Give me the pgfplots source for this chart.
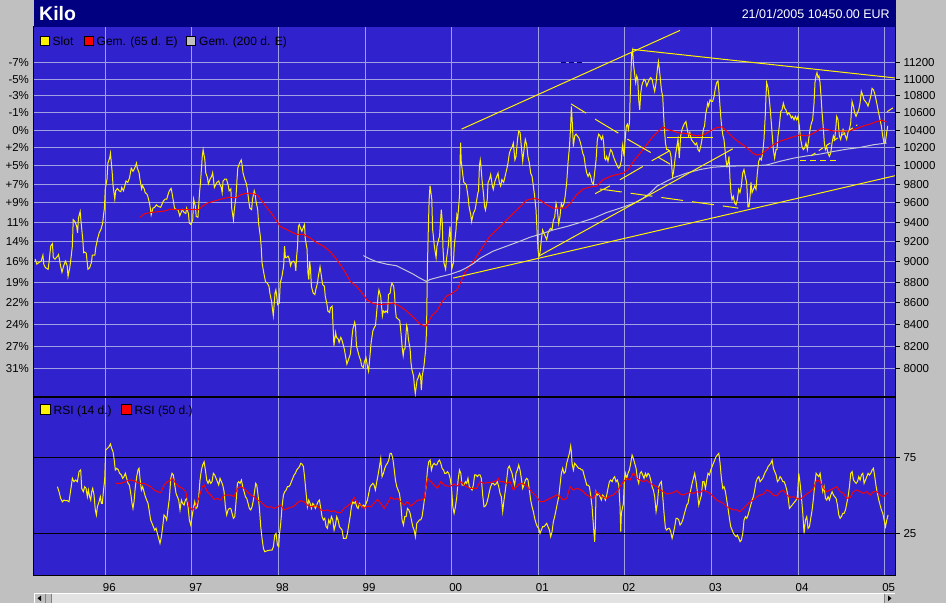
\documentclass[border=0pt]{standalone}
\usepackage{pgfplots}
\pgfplotsset{compat=1.18}
\usepackage{fontspec}
\setmainfont{Liberation Sans}
\definecolor{bggray}{RGB}{192,192,192}
\definecolor{navy}{RGB}{0,0,128}
\definecolor{plotblue}{RGB}{48,34,204}
\definecolor{gridcol}{RGB}{160,160,226}
\definecolor{avggray}{RGB}{200,200,214}
\definecolor{trackgray}{RGB}{226,226,226}
\newcommand{\tickfont}{\fontsize{11.5}{12}\selectfont}
\newcommand{\legfont}{\fontsize{12}{13}\selectfont}
\begin{document}
\begin{tikzpicture}[x=1pt,y=1pt]
\fill[bggray] (0,0) rectangle (946,-603);
% ---------------- main price panel ----------------
\begin{axis}[
  at={(34pt,-27pt)}, anchor=north west,
  scale only axis, width=861pt, height=370pt,
  xmin=1995.177, xmax=2005.119,
  ymode=log, ymin=7757, ymax=11652,
  axis background/.style={fill=plotblue},
  axis line style={black, line width=1pt},
  xtick={1996,1997,1998,1999,2000,2001,2002,2003,2004,2005},
  xticklabels={},
  xtick style={draw=none},
  xmajorgrids, ymajorgrids,
  major grid style={gridcol, line width=1pt},
  ytick={8000,8200,8400,8600,8800,9000,9200,9400,9600,9800,10000,10200,10400,10600,10800,11000,11200},
  yticklabels={8000,8200,8400,8600,8800,9000,9200,9400,9600,9800,10000,10200,10400,10600,10800,11000,11200},
  ytick pos=right, yticklabel pos=right,
  tick align=outside, major tick length=5pt,
  ytick style={black, line width=1pt},
  yticklabel style={font=\tickfont, text=black},
]
% Slot (price)
\addplot[yellow, line width=1pt] table {
x y
1995.19 9025
1995.21 8975
1995.23 8990
1995.26 9005
1995.28 9065
1995.29 8975
1995.31 8940
1995.34 8925
1995.35 8990
1995.37 9155
1995.39 9180
1995.40 9040
1995.42 9025
1995.45 9055
1995.46 9070
1995.47 9025
1995.48 8975
1995.50 8895
1995.52 8960
1995.54 9005
1995.56 8960
1995.57 8855
1995.59 8940
1995.60 9005
1995.62 9155
1995.63 9425
1995.65 9405
1995.67 9355
1995.68 9290
1995.69 9440
1995.70 9475
1995.71 9510
1995.72 9405
1995.74 9225
1995.75 9090
1995.76 9095
1995.78 9085
1995.80 8925
1995.82 8940
1995.84 8990
1995.85 9065
1995.88 9065
1995.89 9140
1995.91 9225
1995.93 9290
1995.95 9325
1995.97 9390
1995.98 9475
1995.99 9545
1996.00 9750
1996.02 9855
1996.03 10030
1996.05 10085
1996.06 10140
1996.07 10030
1996.08 9925
1996.09 9785
1996.11 9640
1996.12 9730
1996.14 9755
1996.16 9730
1996.18 9720
1996.19 9765
1996.21 9730
1996.24 9835
1996.26 9820
1996.28 9870
1996.30 9975
1996.32 9940
1996.34 9975
1996.36 10030
1996.37 9975
1996.39 9925
1996.40 9855
1996.42 9750
1996.43 9785
1996.45 9750
1996.46 9710
1996.48 9695
1996.49 9675
1996.51 9600
1996.52 9545
1996.53 9475
1996.55 9545
1996.57 9555
1996.59 9580
1996.61 9565
1996.64 9555
1996.67 9620
1996.69 9640
1996.71 9640
1996.72 9675
1996.74 9730
1996.76 9755
1996.77 9710
1996.79 9600
1996.80 9545
1996.82 9530
1996.84 9530
1996.86 9465
1996.87 9490
1996.89 9530
1996.91 9500
1996.93 9490
1996.94 9545
1996.96 9490
1996.97 9390
1996.99 9375
1997.01 9425
1997.02 9640
1997.04 9565
1997.05 9460
1997.07 9450
1997.09 9730
1997.10 9820
1997.12 10105
1997.13 10180
1997.15 10065
1997.16 9925
1997.18 9870
1997.19 9805
1997.21 9855
1997.23 9890
1997.24 9925
1997.26 9765
1997.28 9805
1997.29 9820
1997.31 9835
1997.32 9805
1997.34 9765
1997.35 9710
1997.36 9835
1997.38 9855
1997.40 9855
1997.42 9785
1997.43 9730
1997.45 9750
1997.46 9545
1997.48 9425
1997.49 9530
1997.51 9675
1997.52 9835
1997.53 9975
1997.55 10030
1997.57 10065
1997.58 10010
1997.59 9925
1997.61 9855
1997.63 9805
1997.64 9750
1997.66 9600
1997.67 9545
1997.69 9530
1997.70 9640
1997.72 9730
1997.73 9695
1997.74 9620
1997.76 9530
1997.77 9390
1997.79 9255
1997.80 9155
1997.81 8990
1997.83 8890
1997.85 8805
1997.87 8790
1997.89 8760
1997.90 8695
1997.92 8615
1997.93 8545
1997.94 8480
1997.95 8585
1997.96 8695
1997.97 8725
1997.98 8665
1997.99 8585
1998.01 8600
1998.02 8790
1998.04 8855
1998.06 8960
1998.07 9155
1998.08 9040
1998.09 9040
1998.11 9055
1998.12 9040
1998.14 8960
1998.15 8990
1998.17 9005
1998.19 8990
1998.20 8910
1998.21 9055
1998.22 9155
1998.23 9355
1998.24 9375
1998.26 9325
1998.27 9305
1998.29 9355
1998.30 9375
1998.31 9225
1998.33 9125
1998.34 8890
1998.35 8825
1998.36 9005
1998.37 8925
1998.38 8760
1998.40 8695
1998.42 8680
1998.43 8725
1998.45 8790
1998.46 8855
1998.48 8950
1998.49 8890
1998.51 8775
1998.53 8760
1998.54 8665
1998.56 8585
1998.57 8525
1998.59 8510
1998.60 8555
1998.62 8570
1998.63 8390
1998.64 8205
1998.66 8325
1998.67 8280
1998.69 8265
1998.70 8235
1998.72 8280
1998.73 8265
1998.75 8205
1998.76 8175
1998.78 8085
1998.79 8040
1998.81 8085
1998.83 8130
1998.84 8205
1998.85 8295
1998.86 8360
1998.88 8420
1998.89 8375
1998.90 8205
1998.92 8145
1998.93 8115
1998.95 8070
1998.96 8025
1998.98 8010
1998.99 8055
1999.01 8100
1999.03 8010
1999.04 7980
1999.06 8145
1999.07 8235
1999.09 8340
1999.10 8360
1999.12 8390
1999.13 8480
1999.15 8665
1999.16 8725
1999.18 8665
1999.20 8480
1999.21 8525
1999.23 8510
1999.24 8525
1999.26 8510
1999.27 8680
1999.29 8695
1999.30 8760
1999.31 8790
1999.33 8760
1999.34 8680
1999.35 8540
1999.36 8465
1999.38 8450
1999.40 8435
1999.41 8360
1999.43 8175
1999.44 8115
1999.45 8175
1999.46 8175
1999.48 8390
1999.49 8360
1999.50 8265
1999.52 8175
1999.53 8055
1999.54 7995
1999.56 7935
1999.57 7845
1999.58 7785
1999.60 7900
1999.61 7915
1999.63 7960
1999.64 7935
1999.65 7815
1999.66 7935
1999.68 8025
1999.70 8175
1999.71 8360
1999.72 8960
1999.73 9325
1999.74 9640
1999.75 9785
1999.77 9640
1999.78 9325
1999.79 9240
1999.80 9155
1999.82 9040
1999.83 9155
1999.85 9225
1999.86 9255
1999.88 9530
1999.89 9425
1999.90 9125
1999.91 8990
1999.93 8925
1999.94 9025
1999.96 9155
1999.97 9255
1999.98 9355
1999.99 9190
2000.00 8925
2000.02 8990
2000.03 9155
2000.05 9325
2000.06 9475
2000.07 9440
2000.09 9675
2000.097 10065
2000.103 10260
2000.11 10050
2000.13 9890
2000.14 9820
2000.16 9805
2000.17 9785
2000.19 9660
2000.20 9565
2000.22 9475
2000.23 9405
2000.25 9490
2000.27 9530
2000.28 9580
2000.30 9695
2000.31 9730
2000.32 9995
2000.33 10065
2000.335 10030
2000.35 9850
2000.37 9670
2000.38 9560
2000.39 9525
2000.41 9630
2000.42 9820
2000.435 9850
2000.45 9905
2000.47 9780
2000.48 9745
2000.50 9835
2000.52 9885
2000.535 9920
2000.55 9820
2000.566 9780
2000.58 9850
2000.60 9820
2000.616 9885
2000.635 9960
2000.65 10030
2000.666 10140
2000.68 10180
2000.70 10215
2000.712 10255
2000.73 10065
2000.743 10105
2000.76 10295
2000.774 10390
2000.79 10375
2000.804 10215
2000.82 10050
2000.835 10180
2000.85 10295
2000.866 10235
2000.88 10105
2000.897 10030
2000.912 9920
2000.928 9885
2000.943 9780
2000.958 9670
2000.974 9525
2000.985 9320
2000.997 9120
2001.008 9055
2001.02 9085
2001.035 9220
2001.05 9320
2001.066 9285
2001.08 9255
2001.097 9220
2001.112 9285
2001.128 9320
2001.143 9335
2001.158 9320
2001.174 9420
2001.19 9455
2001.205 9595
2001.22 9525
2001.236 9385
2001.25 9455
2001.266 9595
2001.28 9560
2001.297 9595
2001.31 9670
2001.328 9820
2001.343 10030
2001.36 10215
2001.374 10450
2001.382 10675
2001.393 10480
2001.405 10215
2001.42 10335
2001.436 10355
2001.45 10335
2001.467 10315
2001.482 10275
2001.497 10215
2001.513 10140
2001.528 10105
2001.544 9995
2001.56 9920
2001.575 9885
2001.59 9920
2001.605 9885
2001.62 9820
2001.636 9800
2001.65 9920
2001.667 10065
2001.682 10295
2001.698 10355
2001.713 10335
2001.728 10295
2001.744 10335
2001.755 10255
2001.767 10085
2001.778 10065
2001.79 10105
2001.805 10050
2001.82 10120
2001.836 10180
2001.85 10160
2001.867 10105
2001.882 10065
2001.898 10030
2001.913 9995
2001.929 9975
2001.944 9995
2001.96 10065
2001.967 10180
2001.975 10235
2001.99 10105
2002.006 10335
2002.017 10450
2002.029 10470
2002.04 10410
2002.052 10480
2002.067 11000
2002.079 11320
2002.09 11360
2002.098 11195
2002.113 11060
2002.125 10960
2002.137 11040
2002.148 11000
2002.16 10750
2002.171 10635
2002.183 10830
2002.194 10920
2002.206 10960
2002.221 11000
2002.237 10980
2002.252 10920
2002.267 10960
2002.283 11000
2002.298 11020
2002.314 11000
2002.329 10920
2002.344 10855
2002.36 10960
2002.375 11120
2002.387 11215
2002.398 11120
2002.41 11000
2002.421 10875
2002.437 10790
2002.452 10480
2002.468 10255
2002.483 10180
2002.498 10180
2002.52 10160
2002.532 10105
2002.544 9960
2002.55 9885
2002.56 9920
2002.57 9995
2002.582 10105
2002.60 10215
2002.613 10295
2002.628 10085
2002.644 10335
2002.66 10410
2002.675 10450
2002.69 10480
2002.705 10500
2002.72 10410
2002.736 10335
2002.75 10375
2002.767 10295
2002.782 10275
2002.798 10255
2002.813 10235
2002.829 10255
2002.844 10180
2002.86 10160
2002.875 10215
2002.89 10295
2002.906 10410
2002.92 10450
2002.932 10580
2002.944 10640
2002.956 10715
2002.967 10680
2002.983 10755
2002.998 10735
2003.013 10735
2003.029 10790
2003.044 10890
2003.06 10960
2003.075 10980
2003.086 10855
2003.098 10680
2003.11 10520
2003.121 10410
2003.133 10335
2003.144 10295
2003.156 10180
2003.167 10065
2003.179 9995
2003.19 10030
2003.202 10105
2003.214 9850
2003.225 9710
2003.237 9635
2003.252 9670
2003.267 9600
2003.283 9580
2003.298 9635
2003.314 9745
2003.329 9710
2003.344 9780
2003.36 9920
2003.375 9960
2003.39 9885
2003.406 9820
2003.421 9560
2003.433 9560
2003.445 9670
2003.456 9820
2003.468 9710
2003.483 9745
2003.498 9780
2003.514 9745
2003.529 9920
2003.545 10050
2003.56 10085
2003.575 10065
2003.591 10140
2003.606 10295
2003.622 10595
2003.629 10790
2003.637 10960
2003.652 10900
2003.668 10755
2003.679 10635
2003.691 10480
2003.702 10335
2003.714 10180
2003.729 10085
2003.745 10180
2003.756 10180
2003.768 10335
2003.783 10450
2003.799 10615
2003.814 10635
2003.83 10715
2003.845 10655
2003.86 10635
2003.876 10580
2003.891 10600
2003.907 10580
2003.922 10540
2003.937 10560
2003.953 10520
2003.968 10560
2003.984 10520
2003.999 10560
2004.014 10450
2004.03 10295
2004.045 10215
2004.06 10180
2004.076 10200
2004.091 10255
2004.107 10180
2004.122 10295
2004.138 10410
2004.153 10480
2004.168 10520
2004.184 10715
2004.195 10960
2004.207 11040
2004.218 11080
2004.23 11020
2004.241 11040
2004.253 10960
2004.265 10790
2004.276 10615
2004.292 10410
2004.303 10255
2004.315 10180
2004.33 10215
2004.345 10140
2004.361 10105
2004.376 10140
2004.392 10255
2004.407 10335
2004.422 10295
2004.434 10410
2004.446 10560
2004.461 10520
2004.476 10335
2004.492 10295
2004.507 10375
2004.519 10410
2004.53 10375
2004.546 10335
2004.561 10295
2004.576 10375
2004.592 10410
2004.607 10480
2004.623 10735
2004.638 10680
2004.653 10600
2004.669 10560
2004.684 10600
2004.70 10635
2004.715 10715
2004.73 10855
2004.746 10810
2004.761 10755
2004.777 10735
2004.792 10715
2004.807 10680
2004.823 10735
2004.838 10790
2004.854 10890
2004.869 10875
2004.884 10830
2004.90 10755
2004.915 10680
2004.93 10600
2004.946 10520
2004.961 10450
2004.977 10335
2004.992 10255
2005.007 10255
2005.023 10375
2005.035 10450
};
% Gem. (65 d. E)
\addplot[red, line width=1pt] table {
x y
1996.40 9450
1996.45 9485
1996.52 9500
1996.68 9515
1996.75 9535
1996.83 9530
1996.95 9530
1997.08 9530
1997.12 9565
1997.18 9600
1997.26 9620
1997.33 9640
1997.43 9660
1997.51 9655
1997.56 9685
1997.61 9700
1997.66 9705
1997.72 9695
1997.76 9680
1997.81 9620
1997.87 9545
1997.92 9490
1997.95 9450
1998.02 9355
1998.09 9325
1998.17 9290
1998.21 9275
1998.29 9275
1998.36 9240
1998.44 9190
1998.52 9155
1998.59 9105
1998.67 9025
1998.75 8925
1998.83 8805
1998.90 8760
1998.98 8680
1999.02 8630
1999.09 8595
1999.17 8585
1999.25 8590
1999.33 8600
1999.40 8570
1999.48 8525
1999.56 8465
1999.63 8405
1999.70 8380
1999.73 8420
1999.77 8480
1999.83 8525
1999.88 8600
1999.94 8665
2000.00 8690
2000.06 8725
2000.10 8790
2000.15 8890
2000.21 8960
2000.27 9025
2000.33 9110
2000.44 9255
2000.56 9355
2000.67 9455
2000.79 9560
2000.866 9630
2000.96 9650
2001.02 9630
2001.10 9580
2001.17 9545
2001.25 9545
2001.31 9545
2001.37 9595
2001.44 9685
2001.52 9750
2001.60 9770
2001.675 9780
2001.75 9850
2001.83 9885
2001.905 9905
2001.98 9920
2002.04 9960
2002.10 10050
2002.175 10140
2002.25 10235
2002.33 10335
2002.387 10390
2002.445 10440
2002.48 10410
2002.56 10390
2002.62 10370
2002.675 10365
2002.75 10355
2002.83 10335
2002.905 10345
2002.98 10390
2003.06 10430
2003.12 10440
2003.175 10390
2003.25 10315
2003.33 10255
2003.41 10200
2003.48 10140
2003.52 10120
2003.58 10130
2003.64 10180
2003.714 10235
2003.79 10275
2003.87 10300
2003.945 10325
2004.02 10345
2004.10 10335
2004.157 10355
2004.215 10390
2004.27 10420
2004.33 10410
2004.41 10390
2004.48 10390
2004.56 10390
2004.62 10400
2004.68 10420
2004.755 10450
2004.83 10470
2004.91 10500
2004.965 10515
2005.02 10495
};
% Gem. (200 d. E)
\addplot[avggray, line width=1pt] table {
x y
1998.98 9060
1999.06 9025
1999.13 9000
1999.25 8975
1999.36 8960
1999.48 8910
1999.56 8875
1999.63 8840
1999.71 8805
1999.75 8825
1999.86 8850
1999.98 8875
2000.10 8910
2000.17 8940
2000.25 8980
2000.33 9035
2000.48 9105
2000.635 9155
2000.79 9205
2000.905 9245
2001.02 9275
2001.174 9320
2001.33 9355
2001.48 9395
2001.636 9440
2001.79 9500
2001.944 9545
2002.098 9595
2002.21 9650
2002.29 9705
2002.37 9780
2002.445 9815
2002.56 9870
2002.71 9920
2002.87 9960
2003.02 9985
2003.175 9995
2003.33 10000
2003.48 10000
2003.64 10010
2003.79 10050
2003.945 10085
2004.10 10110
2004.25 10130
2004.41 10160
2004.56 10185
2004.715 10205
2004.87 10235
2005.023 10255
};
% drawn trend lines
\addplot[yellow, line width=1pt] coordinates {(2000.115,10413) (2002.636,11607)};
\addplot[yellow, line width=1pt] coordinates {(2002.082,11368) (2005.119,11016)};
\addplot[yellow, line width=1pt] coordinates {(2000.018,8839) (2005.119,9892)};
\addplot[yellow, line width=1pt] coordinates {(2001.0,9052) (2003.245,10189)};
\addplot[yellow, line width=1pt, dash pattern=on 22pt off 9pt] coordinates {(2001.712,9749) (2003.309,9546)};
\addplot[yellow, line width=1pt] coordinates {(2001.378,10706) (2001.551,10598)};
\addplot[yellow, line width=1pt] coordinates {(2001.655,10528) (2001.924,10367)};
\addplot[yellow, line width=1pt] coordinates {(2002.028,10299) (2002.298,10148)};
\addplot[yellow, line width=1pt] coordinates {(2001.943,9848) (2002.206,9993)};
\addplot[yellow, line width=1pt] coordinates {(2001.655,9698) (2001.828,9783)};
\addplot[yellow, line width=1pt] coordinates {(2002.31,10056) (2002.521,10170)};
\addplot[yellow, line width=1pt] coordinates {(2002.382,10097) (2002.521,10019)};
\addplot[yellow, line width=1pt] coordinates {(2002.490,10322) (2003.014,10322)};
\addplot[yellow, line width=1pt, dash pattern=on 6pt off 4pt] coordinates {(2004.022,10060) (2004.446,10060)};
\addplot[yellow, line width=1pt, dash pattern=on 5pt off 4pt] coordinates {(2004.152,10112) (2004.684,10462)};
\addplot[yellow, line width=1pt] coordinates {(2005.026,10613) (2005.095,10659)};
\addplot[navy, line width=1pt, dash pattern=on 5pt off 3pt] coordinates {(2001.262,11200) (2001.501,11200)};
\end{axis}
% left percent scale
\begin{axis}[
  at={(34pt,-27pt)}, anchor=north west,
  scale only axis, width=861pt, height=370pt,
  xmin=1995.177, xmax=2005.119,
  ymode=log, ymin=7757, ymax=11652,
  axis x line=none, axis y line*=left,
  y axis line style={draw=none},
  ytick={8000,8200,8400,8600,8800,9000,9200,9400,9600,9800,10000,10200,10400,10600,10800,11000,11200},
  yticklabels={31\%,27\%,24\%,22\%,19\%,16\%,14\%,11\%,+9\%,+7\%,+5\%,+2\%,0\%,-1\%,-3\%,-5\%,-7\%},
  ytick style={draw=none},
  yticklabel style={font=\tickfont, text=black, xshift=-1.5pt},
]
\end{axis}
% ---------------- RSI panel ----------------
\begin{axis}[
  at={(34pt,-397pt)}, anchor=north west,
  scale only axis, width=861pt, height=178pt,
  xmin=1995.177, xmax=2005.119,
  ymin=-2.4, ymax=114.7,
  axis background/.style={fill=plotblue},
  axis line style={black, line width=1pt},
  xtick={1996,1997,1998,1999,2000,2001,2002,2003,2004,2005},
  xticklabels={96,97,98,99,00,01,02,03,04,05},
  xtick style={draw=none},
  xticklabel style={font=\tickfont, text=black, xshift=4pt},
  xmajorgrids,
  major grid style={gridcol, line width=1pt},
  ytick=\empty,
  extra y ticks={25,75},
  extra y tick labels={25,75},
  extra y tick style={grid=major, major grid style={black, line width=1pt}},
  ytick pos=right, yticklabel pos=right,
  tick align=outside, major tick length=5pt,
  ytick style={black, line width=1pt},
  yticklabel style={font=\tickfont, text=black},
]
% RSI (14 d.)
\addplot[yellow, line width=1pt] table {
x y
1995.447 55.7
1995.466 52.4
1995.485 48.0
1995.504 45.8
1995.524 46.9
1995.543 46.5
1995.562 46.5
1995.581 45.8
1995.601 53.5
1995.620 61.2
1995.639 59.0
1995.658 60.1
1995.678 59.0
1995.697 65.6
1995.716 66.7
1995.728 54.6
1995.747 52.4
1995.762 55.7
1995.778 54.6
1995.793 49.1
1995.805 53.5
1995.820 49.1
1995.832 46.9
1995.843 52.4
1995.855 54.6
1995.870 50.2
1995.885 40.4
1995.897 37.1
1995.909 42.5
1995.928 45.8
1995.943 49.1
1995.955 44.7
1995.966 44.7
1995.978 52.4
1995.993 60.1
1996.005 79.8
1996.024 80.9
1996.043 82.0
1996.059 83.8
1996.074 80.9
1996.089 78.7
1996.101 74.3
1996.116 66.7
1996.132 67.8
1996.151 66.7
1996.166 64.5
1996.186 63.4
1996.201 61.2
1996.216 62.3
1996.232 64.5
1996.247 61.2
1996.263 57.9
1996.278 56.8
1996.294 51.3
1996.309 44.7
1996.320 41.4
1996.332 45.8
1996.347 55.7
1996.363 62.3
1996.378 66.7
1996.390 67.8
1996.401 61.2
1996.417 53.5
1996.432 55.7
1996.447 52.4
1996.463 49.1
1996.478 46.9
1996.494 44.7
1996.509 39.3
1996.524 33.8
1996.540 31.6
1996.555 29.4
1996.571 27.2
1996.586 28.3
1996.601 25.0
1996.617 21.7
1996.632 18.4
1996.648 22.8
1996.663 29.4
1996.678 37.1
1996.694 36.0
1996.709 33.8
1996.725 41.4
1996.740 48.0
1996.756 61.2
1996.771 64.5
1996.786 63.4
1996.802 56.8
1996.817 51.3
1996.832 49.1
1996.848 46.9
1996.863 40.4
1996.879 46.9
1996.894 44.7
1996.910 43.6
1996.925 46.9
1996.940 48.0
1996.956 42.5
1996.971 33.8
1996.987 30.5
1997.002 36.0
1997.017 41.4
1997.033 45.8
1997.048 41.4
1997.064 42.5
1997.079 49.1
1997.094 60.1
1997.110 66.7
1997.125 70.0
1997.141 72.1
1997.156 66.7
1997.171 60.1
1997.187 57.9
1997.202 60.1
1997.218 57.9
1997.233 59.0
1997.248 64.5
1997.264 63.4
1997.279 61.2
1997.295 59.0
1997.310 56.8
1997.325 61.2
1997.341 59.0
1997.356 56.8
1997.372 52.4
1997.387 42.5
1997.402 37.1
1997.418 40.4
1997.433 41.4
1997.449 41.4
1997.464 38.2
1997.479 34.9
1997.495 36.0
1997.510 45.8
1997.526 57.9
1997.541 59.0
1997.556 57.9
1997.572 60.1
1997.587 55.7
1997.603 52.4
1997.618 49.1
1997.633 48.0
1997.649 44.7
1997.664 41.4
1997.680 40.4
1997.695 42.5
1997.710 46.9
1997.726 53.5
1997.737 57.9
1997.749 56.8
1997.764 50.2
1997.780 41.4
1997.795 29.4
1997.810 21.7
1997.826 15.1
1997.841 12.9
1997.872 13.6
1997.903 14.0
1997.926 14.0
1997.941 16.2
1997.957 23.9
1997.972 25.0
1997.988 17.3
1998.003 16.2
1998.011 23.9
1998.026 31.6
1998.041 42.5
1998.057 50.2
1998.072 52.4
1998.088 53.5
1998.103 55.7
1998.118 55.7
1998.134 56.8
1998.149 59.0
1998.165 61.2
1998.180 63.4
1998.195 64.5
1998.211 66.7
1998.226 67.8
1998.242 68.9
1998.257 71.1
1998.272 70.6
1998.288 68.9
1998.303 61.2
1998.319 51.3
1998.334 42.5
1998.349 46.9
1998.365 44.7
1998.380 41.4
1998.396 44.7
1998.411 43.6
1998.426 41.4
1998.442 43.6
1998.457 45.8
1998.473 46.9
1998.488 41.4
1998.503 36.0
1998.519 33.8
1998.534 34.9
1998.550 29.4
1998.565 28.3
1998.580 33.8
1998.596 31.6
1998.611 36.0
1998.627 33.8
1998.642 27.2
1998.657 30.5
1998.673 36.0
1998.688 33.8
1998.704 29.4
1998.719 28.3
1998.734 27.2
1998.750 21.7
1998.765 21.7
1998.781 21.7
1998.796 25.0
1998.811 30.5
1998.827 36.0
1998.842 42.5
1998.858 45.8
1998.873 44.7
1998.888 45.8
1998.904 42.5
1998.919 41.4
1998.935 44.7
1998.950 43.6
1998.965 42.5
1998.981 43.6
1998.996 42.5
1999.012 44.7
1999.027 46.9
1999.042 51.3
1999.058 55.7
1999.073 56.8
1999.089 57.9
1999.104 56.8
1999.119 53.5
1999.135 59.0
1999.150 63.4
1999.166 68.9
1999.181 74.3
1999.196 62.3
1999.212 64.5
1999.227 67.8
1999.243 70.0
1999.258 71.1
1999.273 73.2
1999.289 77.6
1999.304 77.6
1999.320 74.3
1999.335 67.8
1999.350 60.1
1999.366 55.7
1999.381 53.5
1999.397 51.3
1999.412 44.7
1999.427 33.8
1999.443 30.5
1999.458 36.0
1999.474 36.0
1999.489 41.4
1999.504 40.4
1999.520 38.2
1999.535 33.8
1999.551 29.4
1999.566 27.2
1999.581 22.8
1999.597 31.6
1999.612 32.7
1999.628 33.8
1999.643 33.8
1999.658 36.0
1999.674 42.5
1999.689 49.1
1999.705 55.7
1999.720 66.7
1999.735 72.1
1999.751 73.2
1999.766 66.7
1999.782 70.0
1999.797 71.1
1999.812 70.0
1999.828 70.0
1999.843 72.1
1999.859 73.2
1999.874 71.1
1999.889 67.8
1999.905 66.7
1999.920 64.5
1999.936 64.5
1999.951 65.6
1999.966 64.5
1999.982 61.2
1999.997 55.7
2000.013 42.5
2000.028 38.2
2000.043 42.5
2000.059 49.1
2000.074 60.1
2000.090 66.7
2000.105 64.5
2000.120 56.8
2000.142 56.8
2000.158 59.0
2000.173 57.9
2000.188 61.2
2000.204 55.7
2000.219 54.6
2000.235 53.5
2000.250 56.8
2000.265 63.4
2000.281 63.4
2000.296 62.3
2000.312 63.4
2000.327 63.4
2000.342 61.2
2000.358 50.2
2000.373 42.5
2000.389 43.0
2000.404 44.7
2000.419 48.0
2000.435 52.4
2000.450 55.7
2000.466 57.9
2000.481 57.9
2000.496 56.8
2000.512 57.5
2000.527 59.0
2000.543 55.7
2000.558 51.3
2000.573 49.1
2000.589 39.3
2000.604 46.9
2000.620 53.5
2000.635 60.1
2000.650 67.8
2000.666 69.3
2000.681 66.7
2000.697 64.5
2000.712 60.1
2000.727 56.8
2000.743 64.5
2000.758 66.7
2000.774 70.0
2000.789 66.7
2000.804 61.2
2000.820 54.6
2000.835 56.8
2000.851 60.1
2000.866 61.2
2000.881 60.1
2000.897 53.5
2000.912 46.9
2000.928 42.5
2000.943 39.3
2000.958 34.9
2000.974 31.6
2000.989 29.4
2001.005 28.3
2001.020 25.0
2001.035 27.2
2001.051 29.4
2001.066 29.4
2001.082 30.5
2001.097 31.6
2001.112 29.4
2001.128 27.2
2001.143 22.8
2001.159 26.1
2001.174 32.7
2001.189 36.0
2001.205 40.4
2001.220 44.7
2001.236 49.1
2001.251 56.8
2001.266 64.5
2001.282 67.8
2001.297 64.5
2001.313 65.6
2001.328 71.1
2001.343 74.3
2001.359 77.6
2001.374 82.5
2001.382 78.7
2001.390 71.1
2001.405 66.7
2001.420 71.1
2001.436 70.0
2001.451 68.9
2001.467 67.8
2001.482 67.8
2001.497 66.7
2001.513 66.7
2001.528 63.4
2001.544 60.1
2001.559 56.8
2001.574 56.8
2001.590 55.7
2001.605 50.2
2001.621 42.5
2001.636 30.5
2001.651 19.5
2001.659 29.4
2001.667 52.4
2001.682 50.2
2001.698 51.3
2001.713 49.1
2001.728 46.9
2001.744 50.2
2001.759 49.1
2001.775 46.9
2001.790 50.2
2001.805 54.6
2001.821 59.0
2001.836 60.1
2001.852 59.0
2001.867 61.2
2001.882 62.3
2001.898 59.0
2001.913 60.1
2001.929 56.8
2001.944 42.5
2001.952 26.1
2001.959 38.2
2001.971 41.4
2001.983 44.7
2001.994 60.1
2002.006 64.5
2002.021 61.2
2002.036 64.5
2002.052 66.7
2002.067 71.1
2002.083 76.5
2002.098 74.3
2002.113 71.1
2002.129 67.8
2002.144 61.2
2002.160 57.9
2002.175 64.5
2002.190 65.6
2002.206 63.4
2002.221 61.2
2002.237 64.5
2002.252 62.3
2002.267 64.5
2002.283 63.4
2002.298 60.1
2002.314 55.7
2002.329 53.5
2002.344 49.1
2002.360 39.3
2002.375 44.7
2002.391 55.7
2002.406 57.9
2002.421 59.0
2002.437 49.1
2002.452 38.2
2002.468 28.3
2002.483 27.2
2002.498 28.3
2002.514 28.3
2002.529 26.1
2002.545 21.7
2002.560 25.0
2002.575 29.4
2002.591 34.9
2002.606 34.9
2002.622 33.8
2002.637 30.5
2002.652 31.6
2002.668 33.8
2002.683 37.1
2002.699 40.4
2002.714 43.6
2002.729 44.7
2002.745 50.2
2002.760 53.5
2002.776 57.9
2002.791 61.2
2002.806 64.5
2002.822 59.0
2002.837 52.4
2002.853 43.6
2002.868 46.9
2002.883 50.2
2002.899 59.0
2002.914 59.0
2002.930 54.6
2002.945 60.1
2002.960 64.5
2002.976 63.4
2002.991 66.7
2003.007 68.9
2003.022 71.1
2003.037 73.2
2003.053 75.4
2003.068 76.5
2003.084 77.6
2003.099 71.1
2003.114 61.2
2003.130 54.6
2003.145 55.7
2003.161 52.4
2003.176 46.9
2003.191 41.4
2003.207 34.9
2003.222 29.4
2003.238 27.2
2003.253 25.0
2003.268 23.9
2003.284 22.8
2003.299 23.9
2003.315 21.7
2003.330 19.5
2003.345 20.6
2003.361 25.0
2003.376 33.8
2003.392 36.0
2003.407 34.9
2003.422 37.1
2003.438 40.4
2003.453 43.6
2003.469 46.9
2003.484 49.1
2003.499 53.5
2003.515 59.0
2003.530 61.2
2003.546 62.3
2003.561 59.0
2003.576 60.1
2003.592 61.2
2003.607 63.4
2003.623 65.6
2003.638 66.7
2003.653 68.9
2003.669 70.0
2003.684 71.1
2003.700 73.2
2003.715 67.8
2003.730 65.6
2003.746 63.4
2003.761 59.0
2003.777 60.1
2003.792 62.3
2003.807 61.2
2003.823 59.0
2003.838 59.0
2003.854 56.8
2003.869 53.5
2003.884 49.1
2003.900 41.4
2003.915 42.5
2003.931 43.6
2003.946 44.7
2003.961 45.8
2003.977 46.9
2003.992 49.1
2004.008 64.5
2004.023 57.9
2004.038 49.1
2004.054 38.2
2004.069 25.0
2004.085 33.8
2004.100 36.0
2004.115 28.3
2004.131 29.4
2004.146 34.9
2004.162 40.4
2004.177 48.0
2004.192 56.8
2004.208 64.5
2004.223 63.4
2004.239 62.3
2004.254 64.5
2004.269 57.9
2004.285 52.4
2004.300 55.7
2004.316 48.0
2004.331 46.9
2004.346 49.1
2004.362 46.9
2004.377 50.2
2004.393 52.4
2004.408 50.2
2004.423 49.1
2004.439 48.0
2004.454 43.6
2004.470 37.1
2004.485 34.9
2004.500 36.0
2004.516 38.2
2004.531 38.2
2004.547 40.4
2004.562 44.7
2004.577 49.1
2004.593 55.7
2004.608 64.5
2004.624 65.6
2004.639 60.1
2004.654 59.0
2004.670 57.9
2004.685 59.0
2004.701 62.3
2004.716 60.1
2004.731 63.4
2004.747 64.5
2004.762 57.9
2004.778 60.1
2004.793 62.3
2004.808 64.5
2004.824 63.4
2004.839 64.5
2004.855 66.7
2004.870 67.8
2004.885 62.3
2004.901 55.7
2004.916 51.3
2004.932 46.9
2004.947 43.6
2004.962 40.4
2004.978 38.2
2004.993 33.8
2005.009 29.4
2005.024 33.8
2005.039 37.1
};
% RSI (50 d.)
\addplot[red, line width=1pt] table {
x y
1996.120 57.9
1996.178 57.9
1996.217 58.6
1996.255 59.6
1996.294 60.1
1996.332 59.6
1996.371 58.3
1996.409 57.9
1996.448 57.9
1996.486 56.8
1996.525 55.7
1996.563 53.5
1996.602 52.4
1996.640 51.8
1996.679 56.8
1996.717 59.0
1996.756 60.1
1996.775 61.2
1996.813 57.9
1996.852 55.7
1996.890 54.6
1996.929 52.4
1996.967 42.5
1997.006 40.4
1997.044 43.0
1997.083 48.7
1997.121 55.7
1997.141 56.8
1997.179 52.4
1997.218 50.2
1997.256 47.4
1997.295 48.0
1997.333 46.9
1997.372 50.2
1997.410 50.2
1997.449 50.2
1997.487 49.1
1997.526 54.6
1997.564 55.7
1997.603 54.6
1997.641 52.4
1997.680 50.2
1997.718 49.1
1997.757 46.9
1997.795 45.8
1997.834 43.6
1997.872 42.1
1997.911 42.5
1997.949 41.4
1997.988 42.5
1998.026 43.6
1998.065 40.4
1998.103 41.4
1998.142 42.1
1998.180 43.0
1998.219 45.2
1998.257 46.5
1998.296 45.8
1998.334 43.6
1998.373 42.5
1998.411 43.0
1998.450 43.0
1998.488 40.4
1998.527 39.9
1998.565 40.4
1998.604 39.3
1998.642 39.9
1998.681 38.6
1998.719 38.6
1998.758 41.4
1998.796 43.0
1998.835 44.7
1998.873 48.7
1998.912 44.7
1998.950 43.6
1998.989 41.4
1999.027 43.0
1999.066 42.5
1999.104 44.7
1999.143 47.4
1999.181 44.7
1999.220 41.4
1999.258 44.7
1999.297 48.7
1999.335 47.4
1999.374 48.0
1999.412 45.8
1999.451 43.6
1999.489 45.8
1999.528 43.0
1999.566 44.7
1999.605 46.9
1999.643 46.9
1999.682 48.0
1999.720 61.2
1999.759 59.0
1999.797 56.8
1999.836 54.6
1999.874 59.0
1999.913 56.8
1999.951 56.1
1999.990 56.1
2000.028 57.5
2000.067 56.1
2000.105 59.0
2000.142 56.8
2000.173 55.7
2000.212 54.6
2000.250 54.6
2000.289 54.6
2000.327 59.0
2000.366 57.9
2000.404 58.3
2000.443 58.3
2000.481 59.0
2000.520 59.6
2000.539 61.2
2000.558 59.0
2000.597 59.0
2000.635 57.9
2000.674 59.0
2000.712 53.5
2000.751 55.7
2000.789 57.9
2000.828 57.5
2000.866 56.1
2000.905 53.5
2000.943 51.3
2000.982 49.1
2001.020 45.8
2001.059 45.8
2001.097 46.9
2001.136 48.0
2001.174 49.1
2001.213 50.2
2001.251 49.1
2001.290 46.9
2001.328 48.0
2001.367 55.7
2001.405 53.5
2001.444 54.6
2001.482 53.9
2001.521 52.4
2001.559 50.2
2001.598 49.1
2001.636 48.0
2001.675 52.4
2001.713 50.2
2001.752 48.7
2001.790 48.0
2001.829 49.6
2001.867 50.2
2001.906 52.4
2001.944 55.7
2001.983 59.0
2002.021 61.2
2002.060 60.1
2002.098 64.9
2002.137 61.2
2002.175 60.1
2002.214 59.0
2002.252 60.1
2002.291 57.9
2002.329 56.8
2002.368 55.7
2002.406 53.5
2002.445 52.4
2002.483 50.9
2002.522 51.3
2002.560 51.8
2002.599 53.1
2002.637 50.9
2002.676 50.2
2002.714 51.3
2002.753 51.8
2002.791 51.3
2002.830 52.4
2002.868 51.8
2002.907 53.5
2002.945 52.4
2002.984 51.3
2003.022 49.1
2003.061 46.9
2003.099 45.8
2003.138 44.7
2003.176 42.5
2003.215 41.4
2003.253 40.4
2003.292 40.4
2003.330 39.3
2003.369 41.4
2003.407 43.6
2003.446 45.8
2003.484 46.9
2003.523 49.1
2003.561 50.2
2003.600 50.9
2003.638 53.5
2003.677 52.4
2003.715 50.2
2003.754 49.6
2003.792 52.4
2003.830 53.5
2003.869 50.2
2003.907 48.7
2003.946 49.1
2003.985 48.0
2004.023 47.4
2004.062 49.1
2004.100 50.9
2004.139 52.4
2004.177 54.6
2004.216 60.1
2004.254 59.0
2004.293 54.6
2004.331 52.4
2004.370 53.5
2004.408 54.6
2004.447 55.7
2004.485 52.4
2004.524 51.3
2004.562 48.0
2004.601 48.7
2004.639 52.4
2004.678 53.5
2004.716 52.4
2004.755 51.3
2004.793 52.4
2004.832 50.2
2004.870 52.4
2004.909 52.4
2004.947 50.2
2004.985 49.1
2005.024 51.3
2005.039 52.4
};
\end{axis}
% ---------------- title bar ----------------
\fill[navy] (34,0) rectangle (896,-27);
\node[anchor=west, inner sep=0, text=white, font=\bfseries\fontsize{19.5}{20}\selectfont] at (39,-14) {Kilo};
\node[anchor=east, inner sep=0, text=white, font=\fontsize{12.5}{13}\selectfont] at (890,-14) {21/01/2005 10450.00 EUR};
% ---------------- legends ----------------
\filldraw[fill=yellow, draw=black, line width=0.8pt] (40.5,-36) rectangle (49.5,-45.5);
\node[anchor=base west, inner sep=0, font=\legfont] at (52.5,-45.5) {Slot};
\filldraw[fill=red, draw=black, line width=0.8pt] (84.5,-36) rectangle (93.5,-45.5);
\node[anchor=base west, inner sep=0, font=\legfont] at (96.5,-45.5) {Gem. (65 d. E)};
\filldraw[fill=bggray, draw=black, line width=0.8pt] (186.5,-36) rectangle (195.5,-45.5);
\node[anchor=base west, inner sep=0, font=\legfont] at (199,-45.5) {Gem. (200 d. E)};
\filldraw[fill=yellow, draw=black, line width=0.8pt] (40.5,-404.5) rectangle (50.5,-414.5);
\node[anchor=base west, inner sep=0, font=\legfont] at (53.5,-414) {RSI (14 d.)};
\filldraw[fill=red, draw=black, line width=0.8pt] (121.5,-404.5) rectangle (131.5,-414.5);
\node[anchor=base west, inner sep=0, font=\legfont] at (134.5,-414) {RSI (50 d.)};
% ---------------- scrollbar ----------------
\fill[trackgray] (34,-593) rectangle (895,-603);
\draw[white, line width=0.8pt] (34,-603) -- (34,-593) -- (895,-593);
\fill[bggray] (34.5,-593.5) rectangle (45,-603);
\fill[bggray] (884.5,-593.5) rectangle (895,-603);
\fill[bggray] (45.5,-593.5) rectangle (51.5,-603);
\draw[gray, line width=0.6pt] (45,-593.5) -- (45,-603);
\draw[gray, line width=0.6pt] (51.5,-593.5) -- (51.5,-603);
\draw[gray, line width=0.6pt] (884.5,-593.5) -- (884.5,-603);
\fill[black] (37.5,-598.3) -- (41,-595.5) -- (41,-601.1) -- cycle;
\fill[black] (891.5,-598.3) -- (888,-595.5) -- (888,-601.1) -- cycle;
\pgfresetboundingbox
\useasboundingbox (0,0) rectangle (946,-603);
\end{tikzpicture}
\end{document}
